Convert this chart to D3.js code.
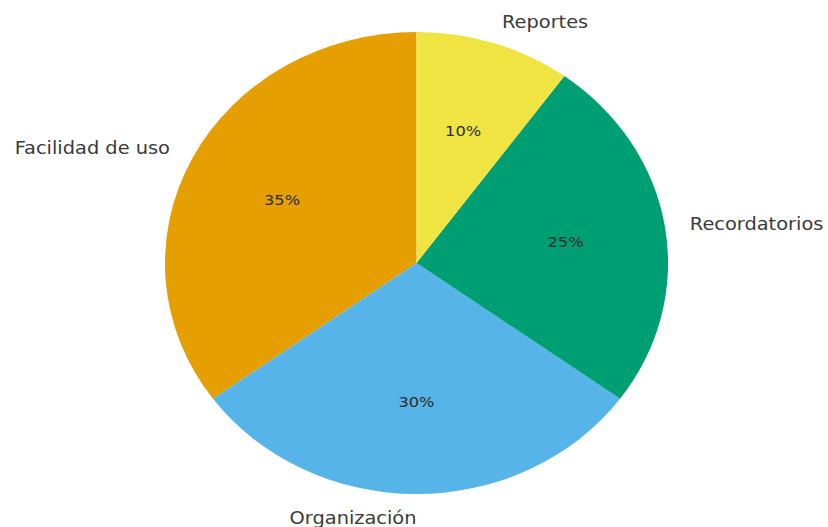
<!DOCTYPE html>
<html>
<head>
<meta charset="utf-8">
<script src="https://cdn.jsdelivr.net/npm/d3@7"></script>
<style>
  html, body { margin: 0; padding: 0; background: #ffffff; }
  svg { display: block; }
  text { font-family: "DejaVu Sans", sans-serif; }
</style>
</head>
<body>
<svg id="chart" width="828" height="527"></svg>
<script>
// Survey results: most valued features
const categories = ["Facilidad de uso", "Organización", "Recordatorios", "Reportes"];
const shares = [35, 30, 25, 10];
const colors = ["#E69F00", "#56B4E9", "#009E73", "#F0E442"];

const width = 828, height = 527;
const cx = 416.5, cy = 263;
const radius = 231;
const xStretch = 1.089;

const svg = d3.select("#chart");

const data = categories.map((c, i) => ({ label: c, value: shares[i], color: colors[i] }));

// Counter-clockwise from 12 o'clock
const pie = d3.pie()
  .value(d => d.value)
  .sort(null)
  .startAngle(0)
  .endAngle(-2 * Math.PI);

const arcs = pie(data);
const arc = d3.arc().innerRadius(0).outerRadius(radius);

const g = svg.append("g")
  .attr("transform", `translate(${cx},${cy}) scale(${xStretch},1)`);

g.selectAll("path.slice")
  .data(arcs)
  .join("path")
  .attr("class", "slice")
  .attr("d", arc)
  .attr("fill", d => d.data.color);

const mid = d => (d.startAngle + d.endAngle) / 2;

// Category labels outside the pie
g.selectAll("text.label")
  .data(arcs)
  .join("text")
  .attr("class", "label")
  .attr("x", d => 1.1 * radius * Math.sin(mid(d)))
  .attr("y", d => -1.1 * radius * Math.cos(mid(d)))
  .attr("dy", "0.36em")
  .attr("text-anchor", d => Math.sin(mid(d)) < 0 ? "end" : "start")
  .attr("font-size", 17.8)
  .attr("fill", "#3a3a3a")
  .text(d => d.data.label);

// Percentage labels inside each slice
g.selectAll("text.pct")
  .data(arcs)
  .join("text")
  .attr("class", "pct")
  .attr("x", d => 0.6 * radius * Math.sin(mid(d)))
  .attr("y", d => -0.6 * radius * Math.cos(mid(d)))
  .attr("dy", "0.35em")
  .attr("text-anchor", "middle")
  .attr("font-size", 14.9)
  .attr("fill", "#2b2b2b")
  .text(d => d.data.value + "%");
</script>
</body>
</html>
